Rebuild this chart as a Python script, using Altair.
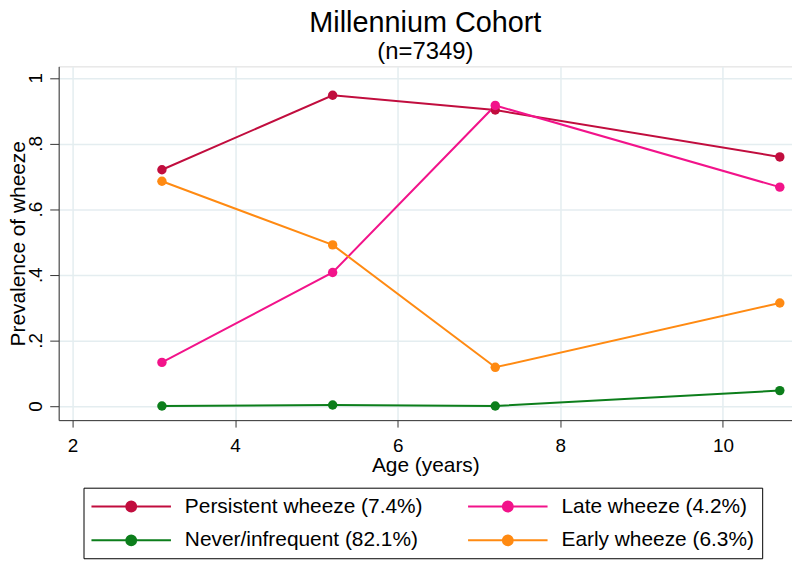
import altair as alt
import pandas as pd

ages = [3.1, 5.2, 7.2, 10.7]
series_names = [
    "Persistent wheeze (7.4%)",
    "Late wheeze (4.2%)",
    "Never/infrequent (82.1%)",
    "Early wheeze (6.3%)",
]
persistent = [0.720, 0.947, 0.902, 0.759]
late = [0.133, 0.407, 0.916, 0.667]
never = [0.000, 0.003, 0.000, 0.047]
early = [0.685, 0.491, 0.118, 0.314]
colors = ["#C10D3E", "#F2138A", "#0C7E1B", "#FF8A12"]
x_ticks = [2, 4, 6, 8, 10]
y_ticks = [0, 0.2, 0.4, 0.6, 0.8, 1]

values = [persistent, late, never, early]
rows = []
for name, vals in zip(series_names, values):
    for a, v in zip(ages, vals):
        rows.append({"age": a, "prev": v, "group": name})
df = pd.DataFrame(rows)

FONT = "Liberation Sans"
SYM = "M-4,0L4,0M-0.5,0A0.5,0.5,0,1,1,0.5,0A0.5,0.5,0,1,1,-0.5,0Z"

color = alt.Color(
    "group:N",
    scale=alt.Scale(domain=series_names, range=colors),
    legend=alt.Legend(
        title=None,
        orient="none",
        direction="horizontal",
        legendX=25,
        legendY=424,
        columns=2,
        columnPadding=41,
        rowPadding=13,
        padding=8,
        strokeColor="#000000",
        fillColor="#ffffff",
        symbolType=SYM,
        symbolSize=400,
        symbolStrokeWidth=2,
        symbolOffset=29,
        symbolOpacity=1,
        labelOffset=43,
        labelFont=FONT,
        labelFontSize=21,
        labelColor="#000000",
        labelLimit=400,
    ),
)

x = alt.X(
    "age:Q",
    scale=alt.Scale(domain=[1.83, 10.85], nice=False, zero=False),
    axis=alt.Axis(
        title="Age (years)",
        values=x_ticks,
        format="d",
        grid=True,
        gridColor="#E4EDF0",
        gridWidth=1.5,
        domainColor="#333333",
        tickColor="#333333",
        tickSize=7,
        labelFont=FONT,
        labelFontSize=19,
        labelColor="#000000",
        labelBaseline="alphabetic",
        labelPadding=25,
        titleFont=FONT,
        titleFontSize=21,
        titleFontWeight="normal",
        titleColor="#000000",
        titleBaseline="alphabetic",
        titleY=52,
    ),
)

y = alt.Y(
    "prev:Q",
    scale=alt.Scale(domain=[-0.043, 1.035], nice=False, zero=False),
    axis=alt.Axis(
        title="Prevalence of wheeze",
        values=y_ticks,
        labelExpr="datum.value >= 1 ? '1' : (datum.value <= 0 ? '0' : '.' + round(datum.value * 10))",
        grid=True,
        gridColor="#E4EDF0",
        gridWidth=1.5,
        domainColor="#333333",
        tickColor="#333333",
        tickSize=9,
        labelFont=FONT,
        labelFontSize=19,
        labelColor="#000000",
        labelAngle=270,
        labelAlign="center",
        labelBaseline="alphabetic",
        labelPadding=8,
        titleFont=FONT,
        titleFontSize=21,
        titleFontWeight="normal",
        titleColor="#000000",
        titleAngle=270,
        titleAlign="center",
        titleBaseline="alphabetic",
        titleX=-34,
        titleY=178,
    ),
)

base = alt.Chart(df)
lines = base.mark_line(strokeWidth=2).encode(x=x, y=y, color=color, order="age:Q")
points = base.mark_point(filled=True, size=90, opacity=1).encode(x=x, y=y, color=color)

chart = (
    alt.layer(lines, points)
    .properties(
        width=738,
        height=356,
        title=alt.TitleParams(
            "Millennium Cohort",
            subtitle="(n=7349)",
            font=FONT,
            fontSize=29,
            fontWeight="normal",
            color="#000000",
            subtitleFont=FONT,
            subtitleFontSize=24,
            subtitleColor="#000000",
            anchor="middle",
            frame="group",
            offset=2,
            subtitlePadding=3,
        ),
        autosize=alt.AutoSizeParams(type="none"),
        padding={"left": 51, "top": 57, "right": 0, "bottom": 139},
    )
    .configure_view(stroke=None)
    .configure(background="#ffffff")
)

chart.save("out.html", embed_options={"renderer": "svg", "actions": False})
